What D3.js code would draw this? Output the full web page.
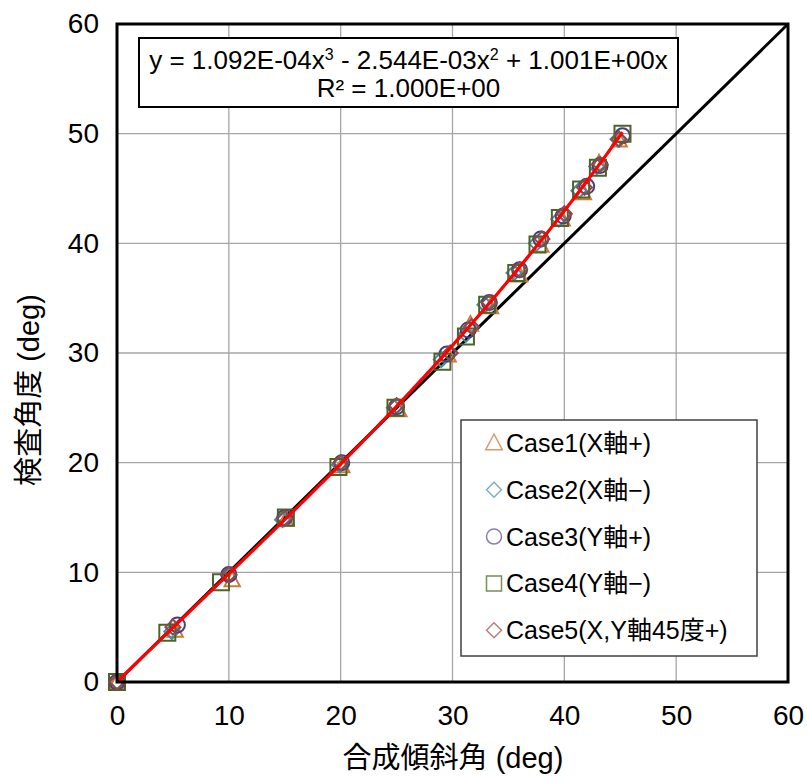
<!DOCTYPE html>
<html>
<head>
<meta charset="utf-8">
<script src="https://cdn.jsdelivr.net/npm/d3@7"></script>
<style>
  html, body { margin: 0; padding: 0; background: #fff; }
  svg { display: block; }
  text { font-family: "Liberation Sans", Arial, "Noto Sans CJK JP", sans-serif; fill: #000; }
  .cjk { font-family: "Liberation Sans", "Noto Sans CJK JP", sans-serif; }
</style>
</head>
<body>
<svg id="chart" width="807" height="776"></svg>
<script>
// Axis ticks
const xTicks = [0, 10, 20, 30, 40, 50, 60];
const yTicks = [0, 10, 20, 30, 40, 50, 60];

// Measured points: composite tilt angle (x) vs inspected angle (y)
const case1X = [0, 5.2, 10.3, 15.1, 20.1, 25.2, 29.6, 31.6, 33.4, 36.0, 37.9, 39.8, 41.7, 43.1, 44.9];
const case1Y = [0, 4.7, 9.3, 14.8, 19.7, 24.8, 29.8, 32.6, 34.2, 37.1, 39.8, 42.2, 44.6, 47.3, 49.4];
const case2X = [0, 4.9, 10.0, 14.8, 19.9, 24.8, 29.0, 31.2, 32.9, 35.5, 37.5, 39.5, 41.3, 42.9, 44.8];
const case2Y = [0, 4.6, 9.7, 14.8, 19.8, 25.0, 29.4, 31.7, 34.4, 37.3, 40.0, 42.2, 44.8, 47.0, 49.5];
const case3X = [0, 5.4, 10.0, 15.0, 20.1, 25.0, 29.5, 31.4, 33.3, 36.0, 37.9, 39.9, 42.0, 43.2, 45.2];
const case3Y = [0, 5.2, 9.8, 15.0, 20.0, 25.1, 29.9, 32.1, 34.6, 37.6, 40.4, 42.5, 45.2, 47.1, 49.8];
const case4X = [0, 4.5, 9.3, 15.1, 19.8, 24.9, 29.1, 31.2, 33.1, 35.7, 37.6, 39.6, 41.5, 43.0, 45.2];
const case4Y = [0, 4.5, 9.1, 15.0, 19.6, 25.0, 29.2, 31.5, 34.4, 37.3, 39.9, 42.3, 44.9, 46.9, 50.0];
const case5X = [0, 5.0, 10.0, 15.0, 20.0, 25.0, 29.8, 31.7, 33.3, 36.0, 38.0, 40.0, 41.8, 43.2, 44.9];
const case5Y = [0, 5.0, 9.8, 14.9, 20.0, 25.2, 30.0, 32.4, 34.6, 37.6, 40.4, 42.7, 45.1, 47.2, 49.5];

const seriesNames = ["Case1(X軸+)", "Case2(X軸−)", "Case3(Y軸+)", "Case4(Y軸−)", "Case5(X,Y軸45度+)"];

// Cubic trendline coefficients [a3, a2, a1] and its x range
const trendCoef = [1.092e-4, -2.544e-3, 1.001];
const trendRange = [0, 45.2];
// Reference line y = x
const diagRange = [0, 60];

const svg = d3.select("#chart");
const plot = { left: 117, top: 24, right: 788, bottom: 682 };

const x = d3.scaleLinear().domain([0, 60]).range([plot.left, plot.right]);
const y = d3.scaleLinear().domain([0, 60]).range([plot.bottom, plot.top]);

// Gridlines
const grid = svg.append("g");
grid.selectAll(".gx").data(xTicks.slice(1, -1)).join("line")
  .attr("x1", d => x(d)).attr("x2", d => x(d))
  .attr("y1", plot.top).attr("y2", plot.bottom)
  .attr("stroke", "#a6a6a6").attr("stroke-width", 1.3);
grid.selectAll(".gy").data(yTicks.slice(1, -1)).join("line")
  .attr("y1", d => y(d)).attr("y2", d => y(d))
  .attr("x1", plot.left).attr("x2", plot.right)
  .attr("stroke", "#a6a6a6").attr("stroke-width", 1.3);

// Axes (labels only, frame drawn separately)
const xAxis = svg.append("g")
  .attr("transform", `translate(0,${plot.bottom})`)
  .call(d3.axisBottom(x).tickValues(xTicks).tickSize(0).tickPadding(23));
xAxis.select(".domain").remove();
xAxis.selectAll("text").style("font-size", "28px").style("font-family", "'Liberation Sans', Arial, sans-serif");

const yAxis = svg.append("g")
  .attr("transform", `translate(${plot.left},0)`)
  .call(d3.axisLeft(y).tickValues(yTicks).tickSize(0).tickPadding(18));
yAxis.select(".domain").remove();
yAxis.selectAll("text").style("font-size", "28px").style("font-family", "'Liberation Sans', Arial, sans-serif");

// y = x reference line
svg.append("line")
  .attr("x1", x(diagRange[0])).attr("y1", y(diagRange[0]))
  .attr("x2", x(diagRange[1])).attr("y2", y(diagRange[1]))
  .attr("stroke", "#000").attr("stroke-width", 3);

// Marker shapes
const styles = [
  { shape: "triangle", color: "#d07a3a" },
  { shape: "diamond",  color: "#3f8ea3" },
  { shape: "circle",   color: "#4a3d7a" },
  { shape: "square",   color: "#4f6228" },
  { shape: "diamond",  color: "#8c4a4a" }
];

function markerPath(shape, s) {
  if (shape === "triangle") return `M0,${-s * 0.6}L${s * 0.55},${s * 0.45}L${-s * 0.55},${s * 0.45}Z`;
  if (shape === "diamond") return `M0,${-s / 2}L${s / 2},0L0,${s / 2}L${-s / 2},0Z`;
  if (shape === "square") return `M${-s / 2},${-s / 2}h${s}v${s}h${-s}Z`;
  const r = s / 2;
  return `M${r},0A${r},${r} 0 1,1 ${-r},0A${r},${r} 0 1,1 ${r},0Z`;
}
const plotSize = [14, 15, 15, 16, 15];

const allX = [case1X, case2X, case3X, case4X, case5X];
const allY = [case1Y, case2Y, case3Y, case4Y, case5Y];

allX.forEach((xs, i) => {
  const pts = xs.map((v, j) => [v, allY[i][j]]);
  svg.append("g").selectAll("path").data(pts).join("path")
    .attr("transform", d => `translate(${x(d[0])},${y(d[1])})`)
    .attr("d", markerPath(styles[i].shape, plotSize[i]))
    .attr("fill", "none")
    .attr("stroke", styles[i].color)
    .attr("stroke-width", 2);
});

// Trendline
const trendXs = d3.range(trendRange[0], trendRange[1] + 0.001, 0.2);
const poly = v => trendCoef[0] * v * v * v + trendCoef[1] * v * v + trendCoef[2] * v;
svg.append("path")
  .datum(trendXs)
  .attr("d", d3.line().x(d => x(d)).y(d => y(poly(d))))
  .attr("fill", "none")
  .attr("stroke", "#ff0000")
  .attr("stroke-width", 3.2);

// Plot frame
svg.append("rect")
  .attr("x", plot.left).attr("y", plot.top)
  .attr("width", plot.right - plot.left).attr("height", plot.bottom - plot.top)
  .attr("fill", "none").attr("stroke", "#000").attr("stroke-width", 3);

// Trendline equation box
const eq = svg.append("g");
eq.append("rect")
  .attr("x", 139).attr("y", 38).attr("width", 539).attr("height", 69)
  .attr("fill", "#fff").attr("stroke", "#000").attr("stroke-width", 2);
const eqText = eq.append("text")
  .attr("x", 408.5).attr("y", 69)
  .attr("text-anchor", "middle")
  .style("font-size", "26px");
eqText.append("tspan").text("y = 1.092E-04x");
eqText.append("tspan").attr("dy", -9).style("font-size", "16px").text("3");
eqText.append("tspan").attr("dy", 9).text(" - 2.544E-03x");
eqText.append("tspan").attr("dy", -9).style("font-size", "16px").text("2");
eqText.append("tspan").attr("dy", 9).text(" + 1.001E+00x");
eq.append("text")
  .attr("x", 408.5).attr("y", 97)
  .attr("text-anchor", "middle")
  .style("font-size", "26px")
  .text("R² = 1.000E+00");

// Legend
const legend = svg.append("g");
legend.append("rect")
  .attr("x", 461).attr("y", 420).attr("width", 296).attr("height", 236)
  .attr("fill", "#fff").attr("stroke", "#404040").attr("stroke-width", 1.5);
const legendColors = ["#d89a6a", "#7fb0c0", "#8a80a8", "#7a8c5a", "#b88080"];
seriesNames.forEach((name, i) => {
  const cy = 443 + i * 46.8;
  legend.append("path")
    .attr("transform", `translate(494,${cy})`)
    .attr("d", markerPath(styles[i].shape, 15))
    .attr("fill", "none")
    .attr("stroke", legendColors[i])
    .attr("stroke-width", 1.5);
  legend.append("text")
    .attr("class", "cjk")
    .attr("x", 506).attr("y", cy + 9)
    .style("font-size", "25px")
    .text(name);
});

// Axis titles
svg.append("text")
  .attr("class", "cjk")
  .attr("x", 453).attr("y", 768)
  .attr("text-anchor", "middle")
  .style("font-size", "29px")
  .text("合成傾斜角 (deg)");
svg.append("text")
  .attr("class", "cjk")
  .attr("transform", "translate(39,390) rotate(-90)")
  .attr("text-anchor", "middle")
  .style("font-size", "29px")
  .text("検査角度 (deg)");
</script>
</body>
</html>
